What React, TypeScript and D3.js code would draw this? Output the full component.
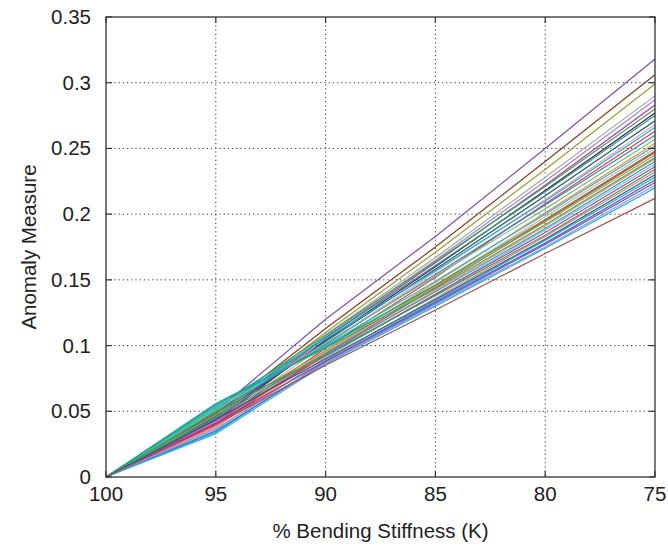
import React from "react";
import * as d3 from "d3";

const xValues = [100, 95, 90, 85, 80, 75];
const xTicks = [100, 95, 90, 85, 80, 75];
const yTicks = [0, 0.05, 0.1, 0.15, 0.2, 0.25, 0.3, 0.35];

const series: number[][] = [
  [0, 0.050, 0.120, 0.183, 0.250, 0.318],
  [0, 0.048, 0.113, 0.175, 0.240, 0.306],
  [0, 0.047, 0.110, 0.171, 0.234, 0.299],
  [0, 0.046, 0.108, 0.167, 0.228, 0.290],
  [0, 0.045, 0.107, 0.165, 0.225, 0.287],
  [0, 0.044, 0.106, 0.163, 0.222, 0.283],
  [0, 0.052, 0.108, 0.164, 0.221, 0.280],
  [0, 0.043, 0.104, 0.160, 0.218, 0.277],
  [0, 0.050, 0.106, 0.161, 0.217, 0.275],
  [0, 0.046, 0.103, 0.158, 0.214, 0.271],
  [0, 0.042, 0.101, 0.156, 0.211, 0.268],
  [0, 0.054, 0.105, 0.157, 0.210, 0.266],
  [0, 0.041, 0.098, 0.152, 0.208, 0.263],
  [0, 0.049, 0.101, 0.154, 0.207, 0.260],
  [0, 0.051, 0.102, 0.153, 0.204, 0.257],
  [0, 0.040, 0.096, 0.148, 0.201, 0.254],
  [0, 0.053, 0.100, 0.149, 0.200, 0.252],
  [0, 0.039, 0.095, 0.146, 0.198, 0.250],
  [0, 0.055, 0.099, 0.146, 0.196, 0.248],
  [0, 0.040, 0.094, 0.144, 0.195, 0.247],
  [0, 0.047, 0.096, 0.145, 0.194, 0.245],
  [0, 0.056, 0.098, 0.143, 0.192, 0.243],
  [0, 0.038, 0.093, 0.142, 0.191, 0.242],
  [0, 0.045, 0.094, 0.141, 0.189, 0.240],
  [0, 0.036, 0.091, 0.139, 0.188, 0.238],
  [0, 0.043, 0.092, 0.139, 0.186, 0.236],
  [0, 0.049, 0.093, 0.138, 0.184, 0.234],
  [0, 0.039, 0.089, 0.136, 0.183, 0.232],
  [0, 0.044, 0.090, 0.135, 0.181, 0.230],
  [0, 0.034, 0.088, 0.134, 0.180, 0.228],
  [0, 0.041, 0.088, 0.133, 0.178, 0.226],
  [0, 0.035, 0.087, 0.132, 0.177, 0.224],
  [0, 0.037, 0.087, 0.131, 0.175, 0.222],
  [0, 0.033, 0.086, 0.130, 0.174, 0.220],
  [0, 0.040, 0.085, 0.127, 0.170, 0.212],
];

const colors = [
  "#7b4fb0", "#8b3a1e", "#9a9a3c", "#a8a8a8", "#9a88d0", "#b0379e",
  "#3aa858", "#4a1a50", "#2a9a8e", "#1e5a5e", "#f09ab4", "#18b0dc",
  "#e0403a", "#3a80c8", "#7ac080", "#f08a3a", "#20b8d8", "#f4a08a",
  "#28a060", "#d83a3a", "#9aa040", "#20a8a0", "#f59a40", "#3a90d0",
  "#60c8e0", "#c03a90", "#30a050", "#e870a0", "#206a6a", "#18a8e0",
  "#8a3ab0", "#3a70c0", "#a090d8", "#30b0e0", "#a05050",
];

const W = 668, H = 548;
const L = 106, R = 655, T = 17, B = 477;

export default function App() {
  const x = d3.scaleLinear().domain([100, 75]).range([L, R]);
  const y = d3.scaleLinear().domain([0, 0.35]).range([B, T]);
  const line = d3.line<number>().x((_, i) => x(xValues[i])).y((d) => y(d));
  const font = "'Liberation Sans', Arial, sans-serif";
  const tick = 6;
  const fs = 20.5;
  return (
    <svg width={W} height={H} style={{ position: "absolute", left: 0, top: 0, background: "#fff" }} fontFamily={font}>
      {xTicks.slice(1, -1).map((t) => (
        <line key={"gx" + t} x1={x(t)} x2={x(t)} y1={T} y2={B} stroke="#333" strokeWidth={1} strokeDasharray="1.2,3" />
      ))}
      {yTicks.slice(1, -1).map((t) => (
        <line key={"gy" + t} x1={L} x2={R} y1={y(t)} y2={y(t)} stroke="#333" strokeWidth={1} strokeDasharray="1.2,3" />
      ))}
      {series.map((s, i) => (
        <path key={i} d={line(s) || ""} fill="none" stroke={colors[i % colors.length]} strokeWidth={1.2} />
      ))}
      <rect x={L} y={T} width={R - L} height={B - T} fill="none" stroke="#333" strokeWidth={1.3} />
      {xTicks.map((t) => (
        <g key={"tx" + t}>
          <line x1={x(t)} x2={x(t)} y1={B} y2={B - tick} stroke="#333" strokeWidth={1.2} />
          <line x1={x(t)} x2={x(t)} y1={T} y2={T + tick} stroke="#333" strokeWidth={1.2} />
          <text x={x(t)} y={B + 24} textAnchor="middle" fontSize={fs} fill="#222">{t}</text>
        </g>
      ))}
      {yTicks.map((t) => (
        <g key={"ty" + t}>
          <line x1={L} x2={L + tick} y1={y(t)} y2={y(t)} stroke="#333" strokeWidth={1.2} />
          <line x1={R} x2={R - tick} y1={y(t)} y2={y(t)} stroke="#333" strokeWidth={1.2} />
          <text x={L - 15} y={y(t) + 7} textAnchor="end" fontSize={fs} fill="#222">{String(t)}</text>
        </g>
      ))}
      <text x={(L + R) / 2} y={538} textAnchor="middle" fontSize={fs} fill="#222">% Bending Stiffness (K)</text>
      <text transform={`translate(36, ${(T + B) / 2}) rotate(-90)`} textAnchor="middle" fontSize={fs} fill="#222">Anomaly Measure</text>
    </svg>
  );
}
